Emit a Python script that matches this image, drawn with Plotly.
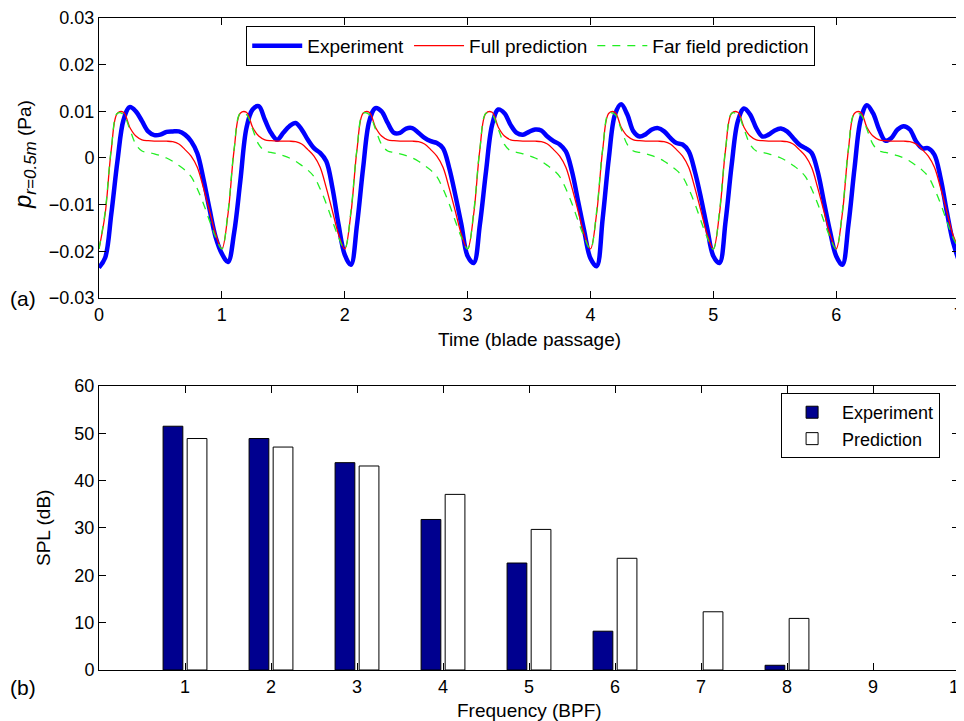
import plotly.graph_objects as go

# ---------------- data (top panel) ----------------
# time in blade passages, sampled every 0.05
time = [round(0.05 * i, 2) for i in range(141)]

# pressure values in mPa, one row per blade passage
experiment_mpa = (
    [-23.5, -21.4, -12.0, -0.7, 8.2, 10.9, 10.0, 7.9, 5.7, 4.9, 5.0, 5.6, 5.7, 5.7, 5.0, 3.6, 1.0, -4.5, -11.0, -17.0]
    + [-20.5, -22.3, -16.0, -5.0, 6.4, 10.4, 11.1, 8.2, 5.4, 3.9, 5.4, 6.8, 7.5, 6.1, 3.9, 2.1, 1.1, -0.7, -6.4, -14.3]
    + [-20.7, -22.9, -14.3, -2.1, 7.9, 10.7, 10.0, 7.5, 5.4, 5.4, 6.3, 6.4, 5.4, 4.3, 3.6, 3.2, 2.1, -2.1, -7.9, -14.3]
    + [-21.0, -22.5, -14.3, -2.9, 7.1, 10.4, 9.6, 7.1, 5.4, 5.0, 5.6, 6.1, 5.9, 4.6, 3.6, 2.9, 1.4, -2.9, -9.3, -15.7]
    + [-21.5, -23.2, -12.9, 0.0, 9.3, 11.5, 9.3, 5.7, 4.6, 5.1, 6.1, 6.4, 5.7, 4.3, 3.2, 2.9, 1.4, -2.9, -8.6, -15.0]
    + [-21.0, -22.5, -13.6, -1.4, 7.9, 10.6, 9.3, 6.4, 4.6, 5.0, 5.9, 6.3, 5.7, 4.3, 2.9, 2.1, 1.1, -2.9, -9.3, -15.7]
    + [-21.0, -22.9, -14.3, -2.1, 8.2, 11.3, 9.6, 6.1, 3.7, 4.3, 6.1, 6.8, 6.1, 3.6, 2.1, 2.1, 0.7, -4.3, -11.4, -17.9]
    + [-22.1]
)

full_pred_mpa = (
    [-19.5, -12.0, 1.8, 9.6, 9.8, 6.6, 4.7, 3.9, 3.7, 3.6, 3.6, 3.6, 3.5, 3.0, 1.8, 0.4, -2.0, -6.4, -11.4, -16.4]
    + [-19.5, -12.0, 1.8, 9.6, 9.8, 6.6, 4.7, 3.9, 3.7, 3.6, 3.6, 3.6, 3.5, 3.0, 1.8, 0.4, -2.0, -6.4, -11.4, -16.4]
    + [-19.5, -12.0, 1.8, 9.6, 9.8, 6.6, 4.7, 3.9, 3.7, 3.6, 3.6, 3.6, 3.5, 3.0, 1.8, 0.4, -2.0, -6.4, -11.4, -16.4]
    + [-19.5, -12.0, 1.8, 9.6, 9.8, 6.6, 4.7, 3.9, 3.7, 3.6, 3.6, 3.6, 3.5, 3.0, 1.8, 0.4, -2.0, -6.4, -11.4, -16.4]
    + [-19.5, -12.0, 1.8, 9.6, 9.8, 6.6, 4.7, 3.9, 3.7, 3.6, 3.6, 3.6, 3.5, 3.0, 1.8, 0.4, -2.0, -6.4, -11.4, -16.4]
    + [-19.5, -12.0, 1.8, 9.6, 9.8, 6.6, 4.7, 3.9, 3.7, 3.6, 3.6, 3.6, 3.5, 3.0, 1.8, 0.4, -2.0, -6.4, -11.4, -16.4]
    + [-19.5, -12.0, 1.8, 9.6, 9.8, 6.6, 4.7, 3.9, 3.7, 3.6, 3.6, 3.6, 3.5, 3.0, 1.8, 0.4, -2.0, -6.4, -11.4, -16.4]
    + [-19.5]
)

far_field_mpa = (
    [-19.5, -11.5, 2.0, 9.6, 9.3, 6.2, 2.9, 1.5, 1.2, 0.9, 0.5, 0.0, -0.7, -1.6, -2.6, -4.0, -6.6, -9.8, -13.5, -17.0]
    + [-19.5, -11.5, 2.0, 9.6, 9.3, 6.2, 2.9, 1.5, 1.2, 0.9, 0.5, 0.0, -0.7, -1.6, -2.6, -4.0, -6.6, -9.8, -13.5, -17.0]
    + [-19.5, -11.5, 2.0, 9.6, 9.3, 6.2, 2.9, 1.5, 1.2, 0.9, 0.5, 0.0, -0.7, -1.6, -2.6, -4.0, -6.6, -9.8, -13.5, -17.0]
    + [-19.5, -11.5, 2.0, 9.6, 9.3, 6.2, 2.9, 1.5, 1.2, 0.9, 0.5, 0.0, -0.7, -1.6, -2.6, -4.0, -6.6, -9.8, -13.5, -17.0]
    + [-19.5, -11.5, 2.0, 9.6, 9.3, 6.2, 2.9, 1.5, 1.2, 0.9, 0.5, 0.0, -0.7, -1.6, -2.6, -4.0, -6.6, -9.8, -13.5, -17.0]
    + [-19.5, -11.5, 2.0, 9.6, 9.3, 6.2, 2.9, 1.5, 1.2, 0.9, 0.5, 0.0, -0.7, -1.6, -2.6, -4.0, -6.6, -9.8, -13.5, -17.0]
    + [-19.5, -11.5, 2.0, 9.6, 9.3, 6.2, 2.9, 1.5, 1.2, 0.9, 0.5, 0.0, -0.7, -1.6, -2.6, -4.0, -6.6, -9.8, -13.5, -17.0]
    + [-19.5]
)

top_xticks = [0, 1, 2, 3, 4, 5, 6, 7]
top_yticks = [-0.03, -0.02, -0.01, 0, 0.01, 0.02, 0.03]
top_yticklabels = ["\u22120.03", "\u22120.02", "\u22120.01", "0", "0.01", "0.02", "0.03"]

# ---------------- data (bottom panel) ----------------
frequency_bpf = [1, 2, 3, 4, 5, 6, 7, 8, 9, 10]
spl_experiment = [51.5, 48.9, 43.8, 31.8, 22.6, 8.2, None, 1.0, None, None]
spl_prediction = [48.9, 47.1, 43.1, 37.1, 29.7, 23.6, 12.3, 10.9, None, None]
bottom_yticks = [0, 10, 20, 30, 40, 50, 60]

# ---------------- figure ----------------
FONT = "Liberation Sans, Arial, Helvetica, sans-serif"
TICK_SIZE = 18
TITLE_SIZE = 19

fig = go.Figure()

fig.add_trace(go.Scatter(
    x=time, y=[v / 1000 for v in experiment_mpa], name="Experiment",
    mode="lines", line=dict(color="#0000ff", width=4.5, shape="spline", smoothing=1.0),
    xaxis="x", yaxis="y", legend="legend"))
fig.add_trace(go.Scatter(
    x=time, y=[v / 1000 for v in full_pred_mpa], name="Full prediction",
    mode="lines", line=dict(color="#ff0000", width=1.3, shape="spline", smoothing=1.0),
    xaxis="x", yaxis="y", legend="legend"))
fig.add_trace(go.Scatter(
    x=time, y=[v / 1000 for v in far_field_mpa], name="Far field prediction",
    mode="lines", line=dict(color="#22ee22", width=1.3, dash="8px,7px", shape="spline", smoothing=1.0),
    xaxis="x", yaxis="y", legend="legend"))

fig.add_trace(go.Bar(
    x=frequency_bpf, y=spl_experiment, name="Experiment",
    marker=dict(color="#00008f", line=dict(color="black", width=1)),
    xaxis="x2", yaxis="y2", legend="legend2"))
fig.add_trace(go.Bar(
    x=frequency_bpf, y=spl_prediction, name="Prediction",
    marker=dict(color="white", line=dict(color="black", width=1)),
    xaxis="x2", yaxis="y2", legend="legend2"))

axis_common = dict(
    showline=True, linecolor="black", linewidth=1, mirror="ticks",
    ticks="inside", ticklen=7, tickcolor="black", tickwidth=1,
    showgrid=False, zeroline=False, automargin=False, ticklabeloverflow="allow",
    tickfont=dict(family=FONT, size=TICK_SIZE, color="black"),
)

top_dom = [0.5706, 1.0]
bot_dom = [0.0, 0.4356]

# the page body offsets the figure by ~7 px, so the figure is made 7 px smaller
fig.update_layout(
    width=957, height=714,
    margin=dict(l=91, r=6, t=10, b=52),
    paper_bgcolor="white", plot_bgcolor="white",
    font=dict(family=FONT, size=TICK_SIZE, color="black"),
    barmode="group", bargap=0.44, bargroupgap=0.18,
    xaxis=dict(domain=[0, 1], anchor="y", range=[0, 7], tickvals=top_xticks, **axis_common),
    yaxis=dict(domain=top_dom, anchor="x", range=[-0.03, 0.03], tickvals=top_yticks,
               ticktext=top_yticklabels, **axis_common),
    xaxis2=dict(domain=[0, 1], anchor="y2", range=[0, 10], tickvals=frequency_bpf, **axis_common),
    yaxis2=dict(domain=bot_dom, anchor="x2", range=[0, 60], tickvals=bottom_yticks, **axis_common),
    legend=dict(
        orientation="h", x=0.502, xanchor="center", y=0.988, yanchor="top",
        bgcolor="white", bordercolor="black", borderwidth=1,
        font=dict(family=FONT, size=TITLE_SIZE, color="black"),
        itemwidth=50, tracegroupgap=0,
    ),
    legend2=dict(
        orientation="v", x=0.978, xanchor="right", y=0.4248, yanchor="top",
        bgcolor="white", bordercolor="black", borderwidth=1,
        font=dict(family=FONT, size=18, color="black"),
        itemwidth=50, tracegroupgap=0,
    ),
    showlegend=True,
)

annotations = [
    dict(text=('<i>p</i><sub><span style="font-size:17px"><i>r=0.5m</i></span></sub>'
               '<span style="font-size:19px"> (Pa)</span>'),
         xref="paper", yref="paper",
         x=(23 - 98) / 860, y=(669 - 154) / 652, xanchor="center", yanchor="middle",
         textangle=-90, showarrow=False, font=dict(family=FONT, size=24)),
    dict(text="(a)", xref="paper", yref="paper", x=(22 - 98) / 860, y=(669 - 298) / 652,
         xanchor="center", yanchor="middle", showarrow=False, font=dict(family=FONT, size=21)),
    dict(text="Time (blade passage)", xref="paper", yref="paper", x=0.5, y=(669 - 338) / 652,
         xanchor="center", yanchor="middle", showarrow=False, font=dict(family=FONT, size=TITLE_SIZE)),
    dict(text="SPL (dB)", xref="paper", yref="paper", x=(42 - 98) / 860, y=(669 - 527) / 652,
         xanchor="center", yanchor="middle", textangle=-90, showarrow=False,
         font=dict(family=FONT, size=TITLE_SIZE)),
    dict(text="(b)", xref="paper", yref="paper", x=(22 - 98) / 860, y=(669 - 686) / 652,
         xanchor="center", yanchor="middle", showarrow=False, font=dict(family=FONT, size=21)),
    dict(text="Frequency (BPF)", xref="paper", yref="paper", x=0.5, y=(669 - 709) / 652,
         xanchor="center", yanchor="middle", showarrow=False, font=dict(family=FONT, size=TITLE_SIZE)),
]
fig.update_layout(annotations=annotations)

fig.write_html("out.html")
